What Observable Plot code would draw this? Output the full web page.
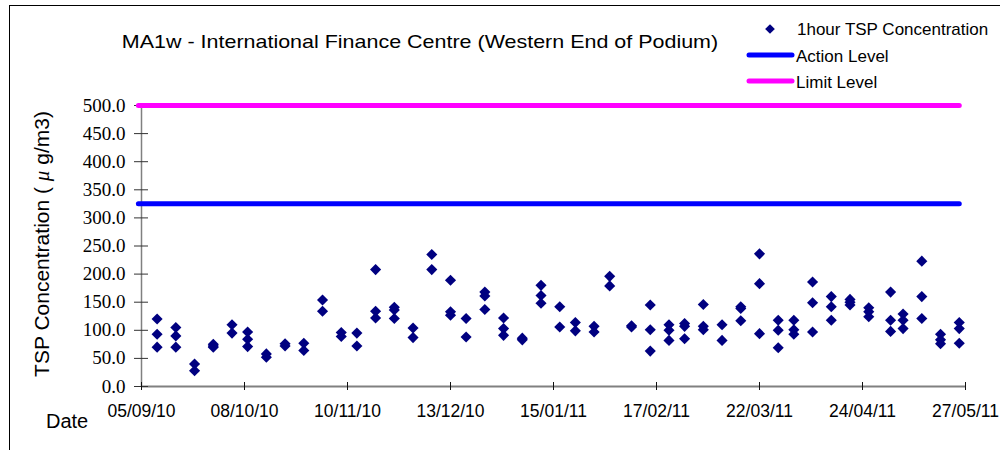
<!DOCTYPE html>
<html>
<head>
<meta charset="utf-8">
<script src="https://cdn.jsdelivr.net/npm/d3@7"></script>
<script src="https://cdn.jsdelivr.net/npm/@observablehq/plot@0.6"></script>
<style>
  body { margin: 0; background: #fff; }
  #wrap { position: relative; width: 1000px; height: 450px; overflow: hidden; font-family: "Liberation Sans", Arial, sans-serif; }
  #frame { position: absolute; left: 9px; top: 5px; width: 1200px; height: 600px; border-left: 1px solid #000; border-top: 1px solid #000; }
  #chart { position: absolute; left: 0; top: 0; }
  .lbl { position: absolute; white-space: nowrap; color: #000; }
  #title { left: 420px; top: 31px; transform: translateX(-50%) scaleX(1.13); font-size: 19px; }
  #ylabel { left: 42px; top: 244px; transform: translate(-50%, -50%) rotate(-90deg); font-size: 21px; }
  #ylabel i { font-family: "Liberation Serif", "Times New Roman", serif; }
  #xlabel { left: 46px; top: 410px; font-size: 20px; }
  #legend { position: absolute; left: 740px; top: 14px; }
</style>
</head>
<body>
<div id="wrap">
  <div id="frame"></div>
  <div id="chart"></div>
  <div class="lbl" id="title">MA1w - International Finance Centre (Western End of Podium)</div>
  <div class="lbl" id="ylabel">TSP Concentration ( <i>μ</i> g/m3)</div>
  <div class="lbl" id="xlabel">Date</div>
  <div id="legend"></div>
</div>
<script>
// ---- data ----
const sampleDates = [
  "2010-09-10","2010-09-16","2010-09-22","2010-09-28","2010-10-04","2010-10-09",
  "2010-10-15","2010-10-21","2010-10-27","2010-11-02","2010-11-08","2010-11-13",
  "2010-11-19","2010-11-25","2010-12-01","2010-12-07","2010-12-13","2010-12-18",
  "2010-12-24","2010-12-30","2011-01-05","2011-01-11","2011-01-17","2011-01-22",
  "2011-01-28","2011-02-02","2011-02-09","2011-02-15","2011-02-21","2011-02-26",
  "2011-03-04","2011-03-10","2011-03-16","2011-03-22","2011-03-28","2011-04-02",
  "2011-04-08","2011-04-14","2011-04-20","2011-04-26","2011-05-03","2011-05-07",
  "2011-05-13","2011-05-19","2011-05-25"
];
const tspReadings = [
  [120, 93, 70], [105, 90, 70], [40, 28], [75, 72, 70], [110, 95], [97, 84, 71],
  [58, 52], [76, 72], [77, 64], [154, 134], [96, 89], [95, 72],
  [208, 134, 122], [141, 136, 121], [104, 87], [235, 208], [189, 133, 127], [121, 88],
  [168, 161, 137], [122, 103, 91], [86, 83], [180, 162, 148], [142, 106], [114, 99],
  [107, 97], [196, 179], [108, 106], [145, 101, 63], [110, 100, 82], [112, 107, 85],
  [146, 107, 101], [110, 82], [142, 139, 117], [236, 183, 94], [118, 100, 69], [118, 101, 93],
  [186, 149, 97], [160, 142, 118], [155, 150, 145], [140, 133, 124], [168, 118, 98], [129, 118, 103],
  [223, 160, 121], [93, 83, 76], [114, 103, 77]
];
const actionLevel = 325;
const limitLevel = 500;
const levelDates = ["2010-09-04", "2011-05-25"];
const xTickLabels = ["05/09/10","08/10/10","10/11/10","13/12/10","15/01/11","17/02/11","22/03/11","24/04/11","27/05/11"];
const yTicks = [0, 50, 100, 150, 200, 250, 300, 350, 400, 450, 500];
const seriesNames = ["1hour TSP Concentration", "Action Level", "Limit Level"];
const seriesColors = ["#000080", "#0000FF", "#FF00FF"];

// ---- build tables ----
const parseDMY = s => { const [d, m, y] = s.split("/").map(Number); return new Date(Date.UTC(2000 + y, m - 1, d)); };
const xTicks = xTickLabels.map(parseDMY);
const points = sampleDates.flatMap((d, i) => tspReadings[i].map(v => ({date: new Date(d), value: v})));
const actionLine = levelDates.map(d => ({date: new Date(d), value: actionLevel}));
const limitLine = levelDates.map(d => ({date: new Date(d), value: limitLevel}));
const fmtTick = d => xTickLabels[xTicks.findIndex(t => +t === +d)];
const blank = () => "";
const fmtY = d3.format(".1f");

const chart = Plot.plot({
  width: 1000,
  height: 450,
  marginLeft: 141,
  marginRight: 35,
  marginTop: 105,
  marginBottom: 64,
  style: {background: "transparent", overflow: "visible"},
  x: {type: "utc", domain: [xTicks[0], xTicks[xTicks.length - 1]]},
  y: {domain: [0, 500]},
  marks: [
    // axis lines
    Plot.ruleY([0], {stroke: "#808080", strokeWidth: 2}),
    Plot.ruleX([xTicks[0]], {y1: 0, y2: 500, stroke: "#808080", strokeWidth: 1.5}),
    // y ticks crossing axis
    Plot.axisY({ticks: yTicks, tickSize: 14, dx: 7, tickFormat: blank, stroke: "#333", strokeWidth: 1, label: null}),
    // y tick labels (serif)
    Plot.text(yTicks, {y: d => d, text: fmtY, frameAnchor: "left", textAnchor: "end", dx: -16,
      fontFamily: "Liberation Serif", fontSize: 19, fill: "#000"}),
    // x ticks crossing axis
    Plot.axisX({ticks: xTicks, tickSize: 8, dy: -4, tickFormat: blank, stroke: "#111", strokeWidth: 1, label: null}),
    Plot.axisX({ticks: xTicks, tickSize: 0, tickPadding: 18, tickFormat: fmtTick,
      fontFamily: "Liberation Sans", fontSize: 17.5, fill: "#000", label: null}),
    // levels
    Plot.line(limitLine, {x: "date", y: "value", stroke: seriesColors[2], strokeWidth: 5, strokeLinecap: "round"}),
    Plot.line(actionLine, {x: "date", y: "value", stroke: seriesColors[1], strokeWidth: 5, strokeLinecap: "round"}),
    // data
    Plot.dot(points, {x: "date", y: "value", symbol: "diamond2", r: 5, fill: seriesColors[0], stroke: "none"})
  ]
});
document.getElementById("chart").appendChild(chart);

// ---- legend ----
const lg = d3.select("#legend").append("svg").attr("width", 260).attr("height", 85)
  .style("font-family", "Liberation Sans, Arial, sans-serif").style("font-size", "17px");
const rowsY = [15, 41, 67];
seriesNames.forEach((name, i) => {
  const g = lg.append("g").attr("transform", `translate(0,${rowsY[i]})`);
  if (i === 0) {
    g.append("path").attr("d", d3.symbol(d3.symbolDiamond2, 60)()).attr("transform", "translate(30,0)").attr("fill", seriesColors[i]);
    g.append("text").attr("x", 57).attr("dy", "0.35em").text(name);
  } else {
    g.append("line").attr("x1", 9).attr("x2", 52).attr("stroke", seriesColors[i]).attr("stroke-width", 5).attr("stroke-linecap", "round");
    g.append("text").attr("x", 56).attr("dy", "0.4em").text(name);
  }
});
</script>
</body>
</html>
